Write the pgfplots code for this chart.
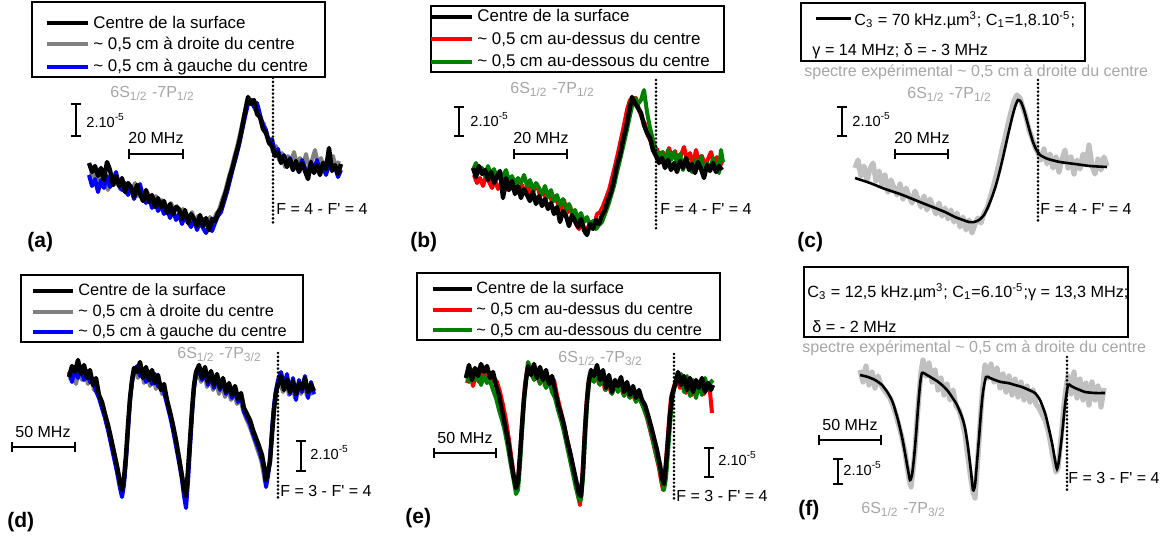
\documentclass[border=0pt]{standalone}
\usepackage{pgfplots}
\pgfplotsset{compat=1.18}
\usepackage{fontspec}
\setmainfont{Liberation Sans}
\usetikzlibrary{arrows.meta}
\definecolor{txtgray}{RGB}{166,166,166}
\definecolor{datgray}{RGB}{128,128,128}
\definecolor{lgray}{RGB}{192,192,192}
\definecolor{dgreen}{RGB}{0,128,0}
\newcommand{\TxtF}{\fontsize{8pt}{9.6pt}\selectfont}
\newcommand{\SclF}{\fontsize{7.3pt}{8.5pt}\selectfont}
\newcommand{\PanF}{\fontsize{10.5pt}{12pt}\selectfont\bfseries}
\newcommand{\LgA}{\fontsize{8.45pt}{10pt}\selectfont}
\newcommand{\LgD}{\fontsize{8.2pt}{10pt}\selectfont}
\newcommand{\LgC}{\fontsize{8.1pt}{9.7pt}\selectfont}
\newcommand{\SixS}[1]{6S\textsubscript{1/2} -7P\textsubscript{#1}}
\newcommand{\Fq}{\textquotesingle}
\newcommand{\TwoE}{2.10\textsuperscript{-5}}
\pgfplotsset{
  panel/.style={
    at={(0pt,0pt)}, anchor=south west,
    width=587.5pt, height=269pt, scale only axis,
    xmin=0, xmax=1175, ymin=0, ymax=538, y dir=reverse,
    hide axis, clip=false,
  },
  dat/.style={line width=2pt, line join=round, forget plot},
  leg/.style={line width=1.9pt, forget plot},
  sbar/.style={black, line width=1pt, arrows={Bar[width=5pt]-Bar[width=5pt]}, forget plot},
  dots/.style={black, line width=1.45pt, line cap=round, dash pattern=on 0pt off 1.95pt, forget plot},
}
\tikzset{lt/.style={anchor=base west, inner sep=0pt}}
\begin{document}
\begin{tikzpicture}
\useasboundingbox (0pt,0pt) rectangle (587.5pt,269pt);
% ---------------- (a)
\begin{axis}[panel]
\draw[line width=0.6pt] (axis cs:32,2) rectangle (axis cs:325,77);
\addplot[leg, black] coordinates {(47,22.7)(88,22.7)};
\addplot[leg, datgray] coordinates {(47,43.7)(88,43.7)};
\addplot[leg, blue] coordinates {(47,66.7)(88,66.7)};
\node[lt, font=\LgA] at (axis cs:93,28.3) {Centre de la surface};
\node[lt, font=\LgA] at (axis cs:93,49.3) {\textasciitilde{} 0,5 cm à droite du centre};
\node[lt, font=\LgA] at (axis cs:93,71.7) {\textasciitilde{} 0,5 cm à gauche du centre};
\addplot[dat, datgray] coordinates {(90,178)(93,170)(96,184)(99,174)(102,186)(105,177)(108,190)(111,181)(114,185)(117,178)(120,189)(123,182)(126,193)(129,186)(132,190)(135,183)(138,196)(141,189)(144,200)(147,192)(150,197)(153,205)(156,196)(159,209)(162,200)(165,206)(168,213)(171,203)(174,211)(177,206)(180,217)(183,209)(186,215)(189,220)(192,212)(195,222)(198,216)(201,224)(204,219)(207,226)(210,217)(213,222)(216,214)(219,210)(222,200)(225,192)(228,180)(231,170)(234,158)(237,147)(240,134)(243,120)(246,107)(249,101)(252,100)(255,110)(258,106)(261,120)(264,124)(267,136)(270,140)(273,152)(276,146)(279,160)(282,153)(285,167)(288,156)(291,162)(294,152)(297,165)(300,158)(303,166)(306,154)(309,167)(312,160)(315,150)(318,164)(321,158)(324,168)(327,160)(330,165)(333,156)(336,169)(339,161)};
\addplot[dat, blue] coordinates {(89,175)(92,186)(95,179)(98,192)(101,180)(104,188)(107,176)(110,187)(113,181)(116,172)(119,185)(122,190)(125,183)(128,195)(131,187)(134,199)(137,191)(140,184)(143,197)(146,203)(149,196)(152,208)(155,200)(158,211)(161,205)(164,214)(167,208)(170,218)(173,210)(176,220)(179,214)(182,224)(185,216)(188,222)(191,227)(194,219)(197,230)(200,222)(203,228)(206,233)(209,226)(212,231)(215,223)(218,216)(221,212)(224,202)(227,192)(230,180)(233,168)(236,157)(239,145)(242,131)(245,117)(248,104)(251,100)(254,107)(257,103)(260,115)(263,125)(266,130)(269,142)(272,139)(275,153)(278,149)(281,162)(284,155)(287,166)(290,158)(293,170)(296,163)(299,172)(302,160)(305,168)(308,174)(311,163)(314,170)(317,160)(320,172)(323,166)(326,175)(329,164)(332,170)(335,167)(338,177)(341,170)};
\addplot[dat, black, line width=2.2pt] coordinates {(89,163)(92,172)(95,166)(98,176)(101,168)(104,180)(107,162)(110,170)(113,185)(116,176)(119,186)(122,178)(125,192)(128,183)(131,187)(134,197)(137,185)(140,194)(143,201)(146,190)(149,202)(152,195)(155,207)(158,198)(161,207)(164,201)(167,213)(170,204)(173,214)(176,207)(179,209)(182,219)(185,210)(188,223)(191,214)(194,219)(197,226)(200,215)(203,226)(206,218)(209,230)(212,219)(215,221)(218,213)(221,208)(224,198)(227,188)(230,176)(233,166)(236,154)(239,143)(242,128)(245,112)(248,97)(251,104)(254,100)(257,114)(260,117)(263,129)(266,133)(269,143)(272,146)(275,156)(278,152)(281,163)(284,156)(287,167)(290,159)(293,170)(296,161)(299,172)(302,163)(305,171)(308,179)(311,162)(314,173)(317,165)(320,175)(323,163)(326,169)(329,148)(332,171)(335,165)(338,174)(341,164)};
\addplot[dots] coordinates {(273,78)(273,223)};
\addplot[sbar] coordinates {(76,103)(76,137)};
\addplot[sbar] coordinates {(128,154)(184,154)};
\node[lt, font=\TxtF, text=txtgray] at (axis cs:110,97) {\SixS{1/2}};
\node[lt, font=\SclF] at (axis cs:86,127) {\TwoE};
\node[lt, font=\TxtF] at (axis cs:128,143) {20 MHz};
\node[lt, font=\TxtF] at (axis cs:276,214) {F = 4 - F\Fq{} = 4};
\node[lt, font=\PanF] at (axis cs:27,247) {(a)};
\end{axis}
% ---------------- (b)
\begin{axis}[panel]
\draw[line width=0.6pt] (axis cs:431,6) rectangle (axis cs:724,72);
\addplot[leg, black] coordinates {(431,16.7)(472,16.7)};
\addplot[leg, red] coordinates {(431,39.3)(472,39.3)};
\addplot[leg, dgreen] coordinates {(431,61.7)(472,61.7)};
\node[lt, font=\LgA] at (axis cs:477,21.7) {Centre de la surface};
\node[lt, font=\LgA] at (axis cs:477,44.3) {\textasciitilde{} 0,5 cm au-dessus du centre};
\node[lt, font=\LgA] at (axis cs:477,66.7) {\textasciitilde{} 0,5 cm au-dessous du centre};
\addplot[dat, red] coordinates {(474,175)(477,183)(480,178)(483,186)(486,176)(489,182)(492,188)(495,180)(498,189)(501,183)(504,178)(507,190)(510,184)(513,188)(516,180)(519,191)(522,185)(525,193)(528,187)(531,195)(534,190)(537,184)(540,196)(543,191)(546,199)(549,192)(552,202)(555,196)(558,204)(561,209)(564,200)(567,213)(570,206)(573,218)(576,224)(579,229)(582,220)(585,233)(588,227)(591,222)(594,226)(597,214)(600,212)(603,206)(606,198)(609,190)(612,178)(615,166)(618,153)(621,139)(624,125)(627,110)(630,100)(633,104)(636,98)(639,110)(642,118)(645,124)(648,136)(651,142)(654,152)(657,149)(660,158)(663,152)(666,162)(669,148)(672,158)(675,151)(678,163)(681,155)(684,147)(687,160)(690,153)(693,165)(696,150)(699,162)(702,156)(705,166)(708,159)(711,152)(714,164)(717,157)(720,166)(723,160)};
\addplot[dat, dgreen] coordinates {(473,170)(476,163)(479,172)(482,168)(485,176)(488,166)(491,175)(494,169)(497,179)(500,173)(503,176)(506,170)(509,181)(512,176)(515,185)(518,178)(521,183)(524,175)(527,186)(530,180)(533,190)(536,183)(539,188)(542,194)(545,186)(548,197)(551,190)(554,201)(557,195)(560,205)(563,199)(566,210)(569,204)(572,213)(575,210)(578,219)(581,213)(584,222)(587,217)(590,226)(593,221)(596,229)(599,225)(602,222)(605,214)(608,206)(611,196)(614,186)(617,172)(620,160)(623,147)(626,134)(629,120)(632,106)(635,98)(638,104)(641,100)(644,90)(647,112)(650,128)(653,140)(656,150)(659,158)(662,152)(665,162)(668,150)(671,160)(674,152)(677,163)(680,154)(683,170)(686,158)(689,164)(692,172)(695,160)(698,168)(701,156)(704,172)(707,163)(710,170)(713,158)(716,166)(719,173)(721,150)(723,162)};
\addplot[dat, black, line width=2.2pt] coordinates {(473,168)(476,177)(479,166)(482,174)(485,170)(488,180)(491,172)(494,183)(497,176)(500,171)(503,198)(506,178)(509,190)(512,181)(515,194)(518,186)(521,198)(524,189)(527,195)(530,201)(533,192)(536,204)(539,196)(542,206)(545,199)(548,209)(551,203)(554,214)(557,207)(560,222)(563,211)(566,216)(569,226)(572,215)(575,221)(578,227)(581,219)(584,230)(587,235)(590,224)(593,229)(596,220)(599,224)(602,215)(605,210)(608,200)(611,192)(614,180)(617,165)(620,155)(623,140)(626,128)(629,112)(632,97)(635,103)(638,108)(641,113)(644,125)(647,133)(650,138)(653,150)(656,156)(659,163)(662,158)(665,168)(668,160)(671,170)(674,163)(677,172)(680,161)(683,168)(686,158)(689,170)(692,164)(695,173)(698,162)(701,169)(704,178)(707,165)(710,171)(713,163)(716,172)(719,166)(722,170)};
\addplot[dots] coordinates {(656,80)(656,232)};
\addplot[sbar] coordinates {(459,106)(459,137)};
\addplot[sbar] coordinates {(513,154)(568,154)};
\node[lt, font=\TxtF, text=txtgray] at (axis cs:510,93) {\SixS{1/2}};
\node[lt, font=\SclF] at (axis cs:470,126) {\TwoE};
\node[lt, font=\TxtF] at (axis cs:513,143) {20 MHz};
\node[lt, font=\TxtF] at (axis cs:660,214) {F = 4 - F\Fq{} = 4};
\node[lt, font=\PanF] at (axis cs:410,247) {(b)};
\end{axis}
% ---------------- (c)
\begin{axis}[panel]
\draw[line width=0.6pt] (axis cs:801,3) rectangle (axis cs:1085,61);
\addplot[leg, black, line width=1.3pt] coordinates {(816,18.3)(851,18.3)};
\node[lt, font=\LgC] at (axis cs:854,25) {C\textsubscript{3} = 70 kHz.µm\textsuperscript{3}; C\textsubscript{1}=1,8.10\textsuperscript{-5};};
\node[lt, font=\LgC] at (axis cs:812,55) {γ = 14 MHz; δ = - 3 MHz};
\addplot[dat, lgray, line width=2.6pt] coordinates {(855,168)(858,160)(861,176)(864,166)(867,180)(870,169)(873,163)(876,181)(879,171)(882,185)(885,175)(888,192)(891,180)(894,188)(897,195)(900,184)(903,199)(906,188)(909,196)(912,203)(915,191)(918,199)(921,207)(924,196)(927,210)(930,199)(933,207)(936,214)(939,203)(942,216)(945,208)(948,219)(951,210)(954,222)(957,213)(960,227)(963,217)(966,230)(969,220)(972,233)(975,224)(978,218)(981,223)(984,213)(987,208)(990,198)(993,188)(996,176)(999,164)(1002,150)(1005,138)(1008,124)(1011,112)(1014,101)(1017,95)(1020,98)(1023,108)(1026,117)(1029,130)(1032,138)(1035,147)(1038,153)(1041,160)(1044,149)(1047,164)(1050,154)(1053,168)(1056,157)(1059,172)(1062,159)(1065,150)(1068,168)(1071,157)(1074,174)(1077,160)(1080,169)(1083,154)(1086,164)(1089,145)(1092,166)(1095,174)(1098,159)(1101,170)(1104,157)(1107,166)};
\addplot[black, line width=1.3pt, smooth, tension=0.4, forget plot] coordinates {(855,178)(870,183)(885,189)(900,194)(915,200)(930,206)(945,212)(955,217)(963,220)(969,222)(974,222)(979,220)(984,215)(988,207)(992,197)(996,185)(1000,170)(1004,153)(1008,135)(1012,118)(1015,107)(1018,100)(1021,102)(1024,110)(1027,121)(1030,132)(1033,142)(1036,149)(1040,155)(1048,159)(1060,162)(1075,164)(1090,166)(1107,167)};
\addplot[dots] coordinates {(1038,80)(1038,223)};
\addplot[sbar] coordinates {(842,106)(842,137)};
\addplot[sbar] coordinates {(894,154)(949,154)};
\node[lt, font=\TxtF, text=txtgray] at (axis cs:804,76) {spectre expérimental \textasciitilde{} 0,5 cm à droite du centre};
\node[lt, font=\TxtF, text=txtgray] at (axis cs:907,98) {\SixS{1/2}};
\node[lt, font=\SclF] at (axis cs:852,126) {\TwoE};
\node[lt, font=\TxtF] at (axis cs:894,143) {20 MHz};
\node[lt, font=\TxtF] at (axis cs:1040,214) {F = 4 - F\Fq{} = 4};
\node[lt, font=\PanF] at (axis cs:797,247) {(c)};
\end{axis}
% ---------------- (d)
\begin{axis}[panel]
\draw[line width=0.6pt] (axis cs:21,275) rectangle (axis cs:303,342);
\addplot[leg, black] coordinates {(33,290.7)(73,290.7)};
\addplot[leg, datgray] coordinates {(33,311.7)(73,311.7)};
\addplot[leg, blue] coordinates {(33,331.7)(73,331.7)};
\node[lt, font=\LgD] at (axis cs:78,295) {Centre de la surface};
\node[lt, font=\LgD] at (axis cs:78,316) {\textasciitilde{} 0,5 cm à droite du centre};
\node[lt, font=\LgD] at (axis cs:78,336.7) {\textasciitilde{} 0,5 cm à gauche du centre};
\addplot[dat, datgray] coordinates {(70,380)(73,372)(76,384)(79,370)(82,380)(85,373)(88,384)(91,376)(94,390)(97,386)(100,400)(103,410)(106,420)(109,432)(112,446)(115,458)(118,472)(121,486)(123,488)(125,472)(127,445)(129,415)(131,392)(133,376)(135,370)(138,378)(141,368)(144,383)(147,373)(150,386)(153,376)(156,389)(159,380)(162,394)(165,392)(168,405)(171,418)(174,432)(177,446)(180,463)(183,482)(185,492)(187,488)(189,458)(191,428)(193,398)(195,380)(198,372)(201,382)(204,372)(207,387)(210,376)(213,390)(216,380)(219,394)(222,384)(225,397)(228,389)(231,400)(234,392)(237,404)(240,398)(243,410)(246,418)(249,425)(252,433)(255,442)(258,451)(261,460)(263,470)(265,482)(267,478)(269,466)(271,445)(273,418)(275,398)(277,388)(280,382)(283,392)(286,380)(289,395)(292,384)(295,398)(298,386)(301,394)(304,383)(307,396)(310,388)(313,395)};
\addplot[dat, blue] coordinates {(69,372)(72,382)(75,368)(78,378)(81,367)(84,380)(87,371)(90,382)(93,380)(96,391)(99,398)(102,408)(105,418)(108,430)(111,444)(114,458)(117,472)(120,488)(122,497)(124,485)(126,460)(128,430)(130,400)(132,382)(134,372)(137,366)(140,376)(143,370)(146,382)(149,372)(152,384)(155,374)(158,386)(161,388)(164,392)(167,404)(170,416)(173,430)(176,446)(179,462)(182,480)(184,496)(186,508)(188,482)(190,448)(192,415)(194,388)(196,375)(199,370)(202,380)(205,372)(208,385)(211,375)(214,388)(217,377)(220,390)(223,380)(226,394)(229,386)(232,398)(235,390)(238,402)(241,396)(244,412)(247,418)(250,424)(253,434)(256,442)(259,450)(262,460)(264,470)(266,487)(268,476)(270,460)(272,430)(274,405)(276,390)(278,380)(281,372)(284,386)(287,374)(290,394)(293,378)(296,400)(299,380)(302,392)(305,376)(308,398)(311,382)(314,394)};
\addplot[dat, black, line width=2.2pt] coordinates {(69,377)(72,366)(75,372)(78,360)(81,374)(84,365)(87,378)(90,370)(93,385)(96,378)(99,395)(102,402)(105,414)(108,425)(111,438)(114,452)(117,466)(120,482)(122,490)(124,478)(126,455)(128,425)(130,398)(132,380)(134,368)(137,372)(140,362)(143,378)(146,367)(149,380)(152,370)(155,383)(158,375)(161,390)(164,384)(167,400)(170,412)(173,425)(176,440)(179,458)(182,476)(184,490)(186,496)(188,470)(190,440)(192,410)(194,385)(196,372)(199,365)(202,378)(205,367)(208,382)(211,371)(214,385)(217,374)(220,388)(223,378)(226,392)(229,383)(232,395)(235,386)(238,399)(241,393)(244,408)(247,414)(250,420)(253,430)(256,438)(259,446)(262,455)(264,466)(266,480)(268,472)(270,462)(272,435)(274,410)(276,392)(278,385)(281,376)(284,390)(287,379)(290,392)(293,381)(296,394)(299,383)(302,389)(305,378)(308,392)(311,384)(314,391)};
\addplot[dots] coordinates {(278,353)(278,498)};
\addplot[sbar] coordinates {(301,440)(301,472)};
\addplot[sbar] coordinates {(11,447)(76,447)};
\node[lt, font=\TxtF, text=txtgray] at (axis cs:177,358) {\SixS{3/2}};
\node[lt, font=\SclF] at (axis cs:310,459) {\TwoE};
\node[lt, font=\TxtF] at (axis cs:15,437) {50 MHz};
\node[lt, font=\TxtF] at (axis cs:280,496) {F = 3 - F\Fq{} = 4};
\node[lt, font=\PanF] at (axis cs:7,527) {(d)};
\end{axis}
% ---------------- (e)
\begin{axis}[panel]
\draw[line width=0.6pt] (axis cs:417,273) rectangle (axis cs:720,340);
\addplot[leg, black] coordinates {(433,289.3)(472,289.3)};
\addplot[leg, red] coordinates {(433,310)(472,310)};
\addplot[leg, dgreen] coordinates {(433,330)(472,330)};
\node[lt, font=\LgD] at (axis cs:476,293.3) {Centre de la surface};
\node[lt, font=\LgD] at (axis cs:476,314) {\textasciitilde{} 0,5 cm au-dessus du centre};
\node[lt, font=\LgD] at (axis cs:476,335) {\textasciitilde{} 0,5 cm au-dessous du centre};
\addplot[dat, red] coordinates {(467,383)(470,372)(473,386)(476,374)(479,382)(482,370)(485,378)(488,374)(491,384)(494,378)(497,382)(500,392)(503,405)(506,420)(509,440)(512,462)(515,485)(517,492)(519,470)(521,440)(523,410)(525,385)(527,370)(530,368)(533,378)(536,370)(539,382)(542,372)(545,386)(548,378)(551,388)(554,380)(557,395)(560,408)(563,420)(566,434)(569,448)(572,462)(575,478)(578,495)(580,505)(582,482)(584,445)(586,410)(588,385)(590,374)(593,380)(596,372)(599,384)(602,375)(605,390)(608,380)(611,393)(614,384)(617,390)(620,380)(623,394)(626,386)(629,397)(632,390)(635,400)(638,393)(641,402)(644,408)(647,418)(650,430)(653,442)(656,455)(659,468)(661,480)(663,490)(665,472)(667,448)(669,420)(671,398)(674,386)(677,378)(680,388)(683,380)(686,393)(689,382)(692,395)(695,384)(698,392)(701,380)(704,394)(707,386)(710,392)(712,413)};
\addplot[dat, dgreen] coordinates {(466,374)(469,382)(472,370)(475,380)(478,372)(481,385)(484,376)(487,383)(490,380)(493,390)(496,398)(499,410)(502,420)(505,432)(508,448)(511,466)(514,482)(516,494)(518,490)(520,465)(522,432)(524,402)(526,382)(528,362)(531,370)(534,380)(537,372)(540,384)(543,374)(546,388)(549,380)(552,392)(555,398)(558,410)(561,420)(564,432)(567,446)(570,460)(573,474)(576,488)(579,500)(581,500)(583,478)(585,440)(587,405)(589,384)(591,374)(594,382)(597,372)(600,385)(603,376)(606,390)(609,378)(612,394)(615,384)(618,392)(621,382)(624,396)(627,388)(630,398)(633,390)(636,402)(639,396)(642,404)(645,412)(648,420)(651,432)(654,445)(657,458)(660,470)(662,482)(664,490)(666,478)(668,452)(670,425)(672,400)(675,384)(678,380)(681,374)(684,392)(687,376)(690,396)(693,380)(696,398)(699,384)(702,395)(705,378)(708,390)(711,382)(713,380)};
\addplot[dat, black, line width=2.2pt] coordinates {(466,378)(469,365)(472,380)(475,368)(478,376)(481,364)(484,372)(487,366)(490,378)(493,372)(496,385)(499,395)(502,410)(505,425)(508,440)(511,460)(514,478)(516,488)(518,482)(520,455)(522,425)(524,398)(526,380)(528,366)(531,375)(534,364)(537,378)(540,367)(543,380)(546,370)(549,384)(552,376)(555,390)(558,404)(561,414)(564,425)(567,440)(570,452)(573,466)(576,480)(579,494)(581,496)(583,470)(585,430)(587,400)(589,380)(591,370)(594,376)(597,365)(600,380)(603,370)(606,388)(609,375)(612,392)(615,380)(618,386)(621,377)(624,392)(627,382)(630,395)(633,386)(636,398)(639,390)(642,400)(645,405)(648,415)(651,426)(654,438)(657,450)(660,465)(662,478)(664,484)(666,465)(668,440)(670,415)(672,395)(675,385)(678,372)(681,385)(684,376)(687,390)(690,378)(693,392)(696,380)(699,388)(702,378)(705,392)(708,383)(711,390)(713,385)};
\addplot[dots] coordinates {(674,354)(674,500)};
\addplot[sbar] coordinates {(709,447)(709,478)};
\addplot[sbar] coordinates {(433,453)(497,453)};
\node[lt, font=\TxtF, text=txtgray] at (axis cs:558,362) {\SixS{3/2}};
\node[lt, font=\SclF] at (axis cs:718,465) {\TwoE};
\node[lt, font=\TxtF] at (axis cs:437,443) {50 MHz};
\node[lt, font=\TxtF] at (axis cs:676,501) {F = 3 - F\Fq{} = 4};
\node[lt, font=\PanF] at (axis cs:405,523) {(e)};
\end{axis}
% ---------------- (f)
\begin{axis}[panel]
\addplot[dat, lgray, line width=2.6pt] coordinates {(860,370)(863,382)(866,366)(869,385)(872,372)(875,388)(878,376)(881,385)(884,390)(887,394)(890,398)(893,406)(896,415)(899,426)(902,438)(905,452)(907,466)(909,478)(911,487)(913,470)(915,450)(917,420)(919,395)(921,372)(923,360)(926,376)(929,363)(932,382)(935,370)(938,390)(941,378)(944,395)(947,384)(950,400)(953,390)(956,406)(959,410)(962,420)(965,434)(967,450)(969,465)(971,480)(973,492)(975,498)(977,470)(979,440)(981,410)(983,385)(985,365)(988,378)(991,364)(994,382)(997,368)(1000,388)(1003,374)(1006,392)(1009,376)(1012,395)(1015,379)(1018,397)(1021,382)(1024,400)(1027,386)(1030,402)(1033,390)(1036,404)(1039,408)(1042,414)(1045,420)(1048,430)(1050,440)(1052,452)(1054,462)(1056,472)(1058,468)(1060,448)(1062,428)(1064,405)(1066,388)(1068,376)(1071,394)(1074,372)(1077,398)(1080,379)(1083,400)(1086,383)(1089,405)(1092,382)(1095,400)(1098,386)(1101,407)(1104,388)};
\addplot[black, line width=1.3pt, smooth, tension=0.4, forget plot] coordinates {(860,375)(868,377)(875,380)(882,385)(888,393)(893,403)(898,420)(902,437)(905,453)(908,470)(910,480)(912,475)(914,458)(916,435)(918,408)(920,385)(922,373)(927,375)(932,378)(937,381)(942,385)(947,390)(952,397)(957,405)(962,417)(965,428)(968,447)(971,472)(973,490)(975,485)(977,462)(979,438)(981,412)(983,392)(986,377)(990,378)(995,380)(1001,382)(1008,383)(1015,385)(1022,387)(1029,390)(1035,393)(1040,400)(1045,413)(1048,425)(1052,443)(1055,460)(1057,469)(1059,460)(1062,435)(1065,405)(1068,385)(1071,386)(1075,388)(1080,390)(1085,392)(1095,393)(1105,393)};
\addplot[dots] coordinates {(1067,357)(1067,492)};
\addplot[sbar] coordinates {(838,458)(838,485)};
\addplot[sbar] coordinates {(818,440)(882,440)};
\draw[line width=0.6pt] (axis cs:804,267) rectangle (axis cs:1128,337);
\node[lt, font=\LgC] at (axis cs:807,297) {C\textsubscript{3} = 12,5 kHz.µm\textsuperscript{3}; C\textsubscript{1}=6.10\textsuperscript{-5};γ = 13,3 MHz;};
\node[lt, font=\LgC] at (axis cs:812,332) {δ = - 2 MHz};
\node[lt, font=\TxtF, text=txtgray] at (axis cs:802,352) {spectre expérimental \textasciitilde{} 0,5 cm à droite du centre};
\node[lt, font=\TxtF, text=txtgray] at (axis cs:861,513) {\SixS{3/2}};
\node[lt, font=\SclF] at (axis cs:843,475) {\TwoE};
\node[lt, font=\TxtF] at (axis cs:822,430) {50 MHz};
\node[lt, font=\TxtF] at (axis cs:1068,483) {F = 3 - F\Fq{} = 4};
\node[lt, font=\PanF] at (axis cs:798,515) {(f)};
\end{axis}
\end{tikzpicture}
\end{document}
